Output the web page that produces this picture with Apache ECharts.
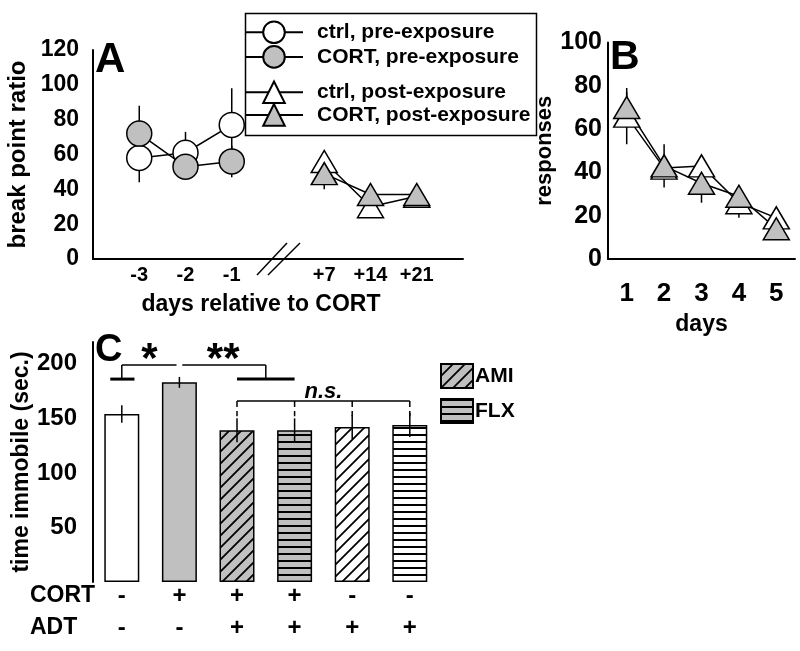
<!DOCTYPE html>
<html>
<head>
<meta charset="utf-8">
<script src="https://cdn.jsdelivr.net/npm/echarts@6/dist/echarts.min.js"></script>
<style>
html, body { margin: 0; background: #fff; }
#main { width: 800px; height: 651px; }
</style>
</head>
<body>
<div id="main"></div>
<script>
// ---- panel A: break point ratio (x = slot index on a broken axis)
var dayLabelsA = ['-3', '-2', '-1', '', '+7', '+14', '+21'];
var prePos = [0, 1, 2];
var postPos = [4, 5, 6];
var ctrlPre = [58, 61, 77];
var ctrlPreErr = [14, 12, 21];
var cortPre = [72, 53, 56];
var cortPreErr = [16, 7, 9];
var ctrlPost = [56, 30, 36];
var ctrlPostErr = [4, 6, 3];
var cortPost = [49, 37, 37];
var cortPostErr = [9, 4, 3];

// ---- panel B: responses per day
var daysB = ['1', '2', '3', '4', '5'];
var ctrlB = [66, 42, 43, 26, 19];
var ctrlBErr = [13, 5, 4, 7, 3];
var cortB = [70, 43, 35, 29, 14];
var cortBErr = [7, 10, 9, 4, 3];

// ---- panel C: time immobile
var groupsC = ['ctrl', 'CORT', 'CORT+AMI', 'CORT+FLX', 'AMI', 'FLX'];
var cortSigns = ['-', '+', '+', '+', '-', '-'];
var adtSigns = ['-', '-', '+', '+', '+', '+'];
var immobile = [154, 183, 139, 139, 142, 144];
var immobileErr = [8, 5, 11, 11, 11, 11];
var barFill = ['white', 'gray', 'grayDiag', 'grayHoriz', 'whiteDiag', 'whiteHoriz'];

var FONT = 'Liberation Sans';
var GRAY = '#c0c0c0';

function pts(xs, ys) {
    return xs.map(function (x, i) { return [x, ys[i]]; });
}

function errs(xs, ys, es) {
    return xs.map(function (x, i) { return [x, ys[i] - es[i], ys[i] + es[i]]; });
}

function diagPattern(base) {
    var s = 12;
    var c = document.createElement('canvas');
    c.width = s; c.height = s;
    var ctx = c.getContext('2d');
    ctx.fillStyle = base;
    ctx.fillRect(0, 0, s, s);
    ctx.strokeStyle = '#000';
    ctx.lineWidth = 1.8;
    ctx.beginPath();
    ctx.moveTo(-2, s + 2); ctx.lineTo(s + 2, -2);
    ctx.moveTo(-2, 2); ctx.lineTo(2, -2);
    ctx.moveTo(s - 2, s + 2); ctx.lineTo(s + 2, s - 2);
    ctx.stroke();
    return { image: c, repeat: 'repeat' };
}

function stripePattern(base) {
    var c = document.createElement('canvas');
    c.width = 8; c.height = 7;
    var ctx = c.getContext('2d');
    ctx.fillStyle = base;
    ctx.fillRect(0, 0, 8, 7);
    ctx.fillStyle = '#000';
    ctx.fillRect(0, 0, 8, 2);
    return { image: c, repeat: 'repeat' };
}

var fills = {
    white: '#fff',
    gray: GRAY,
    grayDiag: diagPattern(GRAY),
    grayHoriz: stripePattern(GRAY),
    whiteDiag: diagPattern('#fff'),
    whiteHoriz: stripePattern('#fff')
};

function errorBar(params, api) {
    var a = api.coord([api.value(0), api.value(1)]);
    var b = api.coord([api.value(0), api.value(2)]);
    return {
        type: 'line',
        shape: { x1: a[0], y1: a[1], x2: b[0], y2: b[1] },
        style: { stroke: '#000', lineWidth: 1.5 }
    };
}

function axisBreak(params, api) {
    var c = api.coord([api.value(0), api.value(1)]);
    var st = { stroke: '#000', lineWidth: 1.5 };
    return {
        type: 'group',
        children: [
            { type: 'line', shape: { x1: c[0] - 21, y1: c[1] + 16, x2: c[0] + 9, y2: c[1] - 16 }, style: st },
            { type: 'line', shape: { x1: c[0] - 10, y1: c[1] + 16, x2: c[0] + 22, y2: c[1] - 16 }, style: st }
        ]
    };
}

function brackets(params, api) {
    var p0 = api.coord([0, 0]);
    var p1 = api.coord([1, 0]);
    var step = p1[0] - p0[0];
    function X(i) { return p0[0] + i * step; }
    function Y(v) { return api.coord([0, v])[1]; }
    var thin = { stroke: '#000', lineWidth: 1.5 };
    var thick = { stroke: '#000', lineWidth: 3 };
    var dash = { stroke: '#000', lineWidth: 1.5, lineDash: [6, 4] };
    function ln(x1, y1, x2, y2, st) {
        return { type: 'line', shape: { x1: x1, y1: y1, x2: x2, y2: y2 }, style: st };
    }
    function tx(x, y, t, size, italic) {
        return {
            type: 'text', x: x, y: y,
            style: {
                text: t, fontSize: size, fontWeight: 'bold', fontFamily: FONT,
                fontStyle: italic ? 'italic' : 'normal',
                fill: '#000', align: 'center', verticalAlign: 'middle'
            }
        };
    }
    var ch = [];
    ch.push(ln(X(-0.2), Y(186), X(0.22), Y(186), thick));
    ch.push(ln(X(0), Y(186), X(0), Y(199), thin));
    ch.push(ln(X(0), Y(199), X(0.95), Y(199), thin));
    ch.push(ln(X(1.05), Y(199), X(2.5), Y(199), thin));
    ch.push(ln(X(2.5), Y(199), X(2.5), Y(186), thin));
    ch.push(ln(X(2), Y(186), X(3), Y(186), thick));
    ch.push(ln(X(2), Y(166), X(5), Y(166), thin));
    for (var i = 2; i <= 5; i++) {
        ch.push(ln(X(i), Y(166), X(i), Y(152), dash));
    }
    ch.push(tx(X(0.48), Y(203), '*', 42));
    ch.push(tx(X(1.76), Y(203), '**', 42));
    ch.push(tx(X(3.5), Y(174), 'n.s.', 22, true));
    return { type: 'group', children: ch };
}

function lineSeries(name, xi, data, symbol, size, fill) {
    return {
        type: 'line', name: name, xAxisIndex: xi, yAxisIndex: xi, data: data,
        symbol: symbol, symbolSize: size,
        itemStyle: { color: fill, borderColor: '#000', borderWidth: 1.5 },
        lineStyle: { color: '#000', width: 1.5 }
    };
}

function axisText(size, extra) {
    var o = { color: '#000', fontWeight: 'bold', fontFamily: FONT, fontSize: size };
    for (var k in extra) o[k] = extra[k];
    return o;
}

var chart = echarts.init(document.getElementById('main'));

var option = {
    animation: false,
    backgroundColor: '#fff',
    textStyle: { fontFamily: FONT },
    grid: [
        { left: 93, top: 50, width: 370, height: 209 },
        { left: 608, top: 42.5, width: 187, height: 216.5 },
        { left: 93, top: 342, width: 345.6, height: 240 }
    ],
    legend: [
        {
            data: ['ctrl, pre-exposure', 'CORT, pre-exposure'],
            left: 244, top: 20.5, orient: 'vertical', padding: 0,
            itemWidth: 58, itemHeight: 27, itemGap: 1, selectedMode: false,
            textStyle: axisText(21, { padding: [0, 0, 0, 9] })
        },
        {
            data: ['ctrl, post-exposure', 'CORT, post-exposure'],
            left: 244, top: 80.5, orient: 'vertical', padding: 0,
            itemWidth: 58, itemHeight: 27, itemGap: -1, selectedMode: false,
            textStyle: axisText(21, { padding: [0, 0, 0, 9] })
        },
        {
            data: ['AMI', 'FLX'],
            left: 440, top: 363, orient: 'vertical', padding: 0,
            itemWidth: 32, itemHeight: 24, itemGap: 9, selectedMode: false,
            icon: 'rect',
            textStyle: axisText(21, { padding: [0, 0, 0, -3] })
        }
    ],
    xAxis: [
        {
            gridIndex: 0, type: 'value', min: -1, max: 7, interval: 1,
            axisLine: { onZero: false, lineStyle: { color: '#000', width: 2 } },
            axisTick: { show: false }, splitLine: { show: false },
            axisLabel: axisText(20, {
                margin: 6,
                formatter: function (v) { return dayLabelsA[v] || ''; }
            }),
            name: 'days relative to CORT', nameLocation: 'middle', nameGap: 34,
            nameTextStyle: axisText(23, { padding: [0, 34, 0, 0] })
        },
        {
            gridIndex: 1, type: 'category', data: daysB,
            axisLine: { lineStyle: { color: '#000', width: 2 } },
            axisTick: { show: false },
            axisLabel: axisText(26, { margin: 22 }),
            name: 'days', nameLocation: 'middle', nameGap: 54,
            nameTextStyle: axisText(23)
        },
        {
            gridIndex: 2, type: 'category', data: groupsC,
            axisLine: { show: false }, axisTick: { show: false },
            axisLabel: axisText(24, {
                margin: -2, lineHeight: 32, interval: 0,
                formatter: function (v, i) { return cortSigns[i] + '\n' + adtSigns[i]; }
            })
        }
    ],
    yAxis: [
        {
            gridIndex: 0, type: 'value', min: 0, max: 120, interval: 20,
            axisLine: { show: true, onZero: false, lineStyle: { color: '#000', width: 2 } },
            axisTick: { show: false }, splitLine: { show: false },
            axisLabel: axisText(23, { margin: 14 }),
            name: 'break point ratio', nameLocation: 'middle', nameGap: 63, nameRotate: 90,
            nameTextStyle: axisText(24)
        },
        {
            gridIndex: 1, type: 'value', min: 0, max: 100, interval: 20,
            axisLine: { show: true, onZero: false, lineStyle: { color: '#000', width: 2 } },
            axisTick: { show: false }, splitLine: { show: false },
            axisLabel: axisText(25, { margin: 6 }),
            name: 'responses', nameLocation: 'middle', nameGap: 44, nameRotate: 90,
            nameTextStyle: axisText(22)
        },
        {
            gridIndex: 2, type: 'value', min: 0, max: 220, interval: 50,
            axisLine: { show: true, onZero: false, lineStyle: { color: '#000', width: 2 } },
            axisTick: { show: false }, splitLine: { show: false },
            axisLabel: axisText(24, {
                margin: 16,
                formatter: function (v) { return (v > 0 && v % 50 === 0) ? v : ''; }
            }),
            name: 'time immobile (sec.)', nameLocation: 'middle', nameGap: 57, nameRotate: 90,
            nameTextStyle: axisText(23)
        }
    ],
    series: [
        {
            type: 'custom', xAxisIndex: 0, yAxisIndex: 0, renderItem: errorBar, silent: true,
            data: errs(prePos, ctrlPre, ctrlPreErr)
                .concat(errs(prePos, cortPre, cortPreErr))
                .concat(errs(postPos, ctrlPost, ctrlPostErr))
                .concat(errs(postPos, cortPost, cortPostErr))
        },
        lineSeries('ctrl, pre-exposure', 0, pts(prePos, ctrlPre), 'circle', 25, '#fff'),
        lineSeries('CORT, pre-exposure', 0, pts(prePos, cortPre), 'circle', 25, GRAY),
        lineSeries('ctrl, post-exposure', 0, pts(postPos, ctrlPost), 'triangle', [26, 22], '#fff'),
        lineSeries('CORT, post-exposure', 0, pts(postPos, cortPost), 'triangle', [26, 22], GRAY),
        {
            type: 'custom', xAxisIndex: 0, yAxisIndex: 0, renderItem: axisBreak, silent: true,
            clip: false, data: [[3, 0]]
        },
        {
            type: 'custom', xAxisIndex: 1, yAxisIndex: 1, renderItem: errorBar, silent: true,
            data: errs([0, 1, 2, 3, 4], ctrlB, ctrlBErr).concat(errs([0, 1, 2, 3, 4], cortB, cortBErr))
        },
        lineSeries('ctrl, post-exposure', 1, ctrlB, 'triangle', [26, 22], '#fff'),
        lineSeries('CORT, post-exposure', 1, cortB, 'triangle', [26, 22], GRAY),
        {
            type: 'bar', name: 'immobile', xAxisIndex: 2, yAxisIndex: 2, barWidth: 35, barGap: '-100%',
            data: immobile.map(function (v, i) {
                return { value: v, itemStyle: { color: fills[barFill[i]] } };
            }),
            itemStyle: { borderColor: '#000', borderWidth: 1.5 }
        },
        {
            type: 'bar', name: 'AMI', xAxisIndex: 2, yAxisIndex: 2, barWidth: 35, barGap: '-100%', data: [],
            itemStyle: { color: fills.grayDiag, borderColor: '#000', borderWidth: 1.5 }
        },
        {
            type: 'bar', name: 'FLX', xAxisIndex: 2, yAxisIndex: 2, barWidth: 35, barGap: '-100%', data: [],
            itemStyle: { color: fills.grayHoriz, borderColor: '#000', borderWidth: 1.5 }
        },
        {
            type: 'custom', xAxisIndex: 2, yAxisIndex: 2, renderItem: errorBar, silent: true, z: 5,
            data: errs([0, 1, 2, 3, 4, 5], immobile, immobileErr)
        },
        {
            type: 'custom', xAxisIndex: 2, yAxisIndex: 2, renderItem: brackets, silent: true, z: 5,
            clip: false, data: [[0, 0]]
        }
    ],
    graphic: [
        {
            type: 'rect', left: 243, top: 11, silent: true,
            shape: { width: 291, height: 122 },
            style: { fill: 'none', stroke: '#000', lineWidth: 1.5 }
        },
        { type: 'text', left: 95, top: 39, style: { text: 'A', fontSize: 42, fontWeight: 'bold', fontFamily: FONT, fill: '#000' } },
        { type: 'text', left: 610, top: 37, style: { text: 'B', fontSize: 41, fontWeight: 'bold', fontFamily: FONT, fill: '#000' } },
        { type: 'text', left: 95, top: 332, style: { text: 'C', fontSize: 38, fontWeight: 'bold', fontFamily: FONT, fill: '#000' } },
        { type: 'text', left: 30, top: 584, style: { text: 'CORT', fontSize: 23, fontWeight: 'bold', fontFamily: FONT, fill: '#000' } },
        { type: 'text', left: 30, top: 616, style: { text: 'ADT', fontSize: 23, fontWeight: 'bold', fontFamily: FONT, fill: '#000' } }
    ]
};

chart.setOption(option);
</script>
</body>
</html>
